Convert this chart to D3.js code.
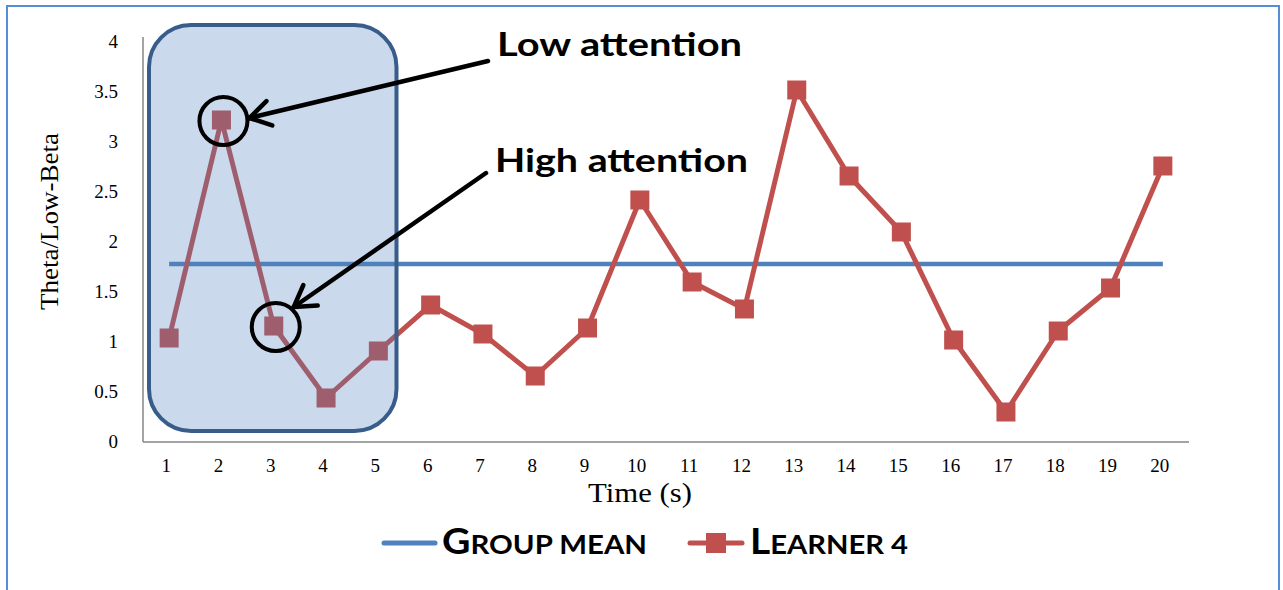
<!DOCTYPE html>
<html><head><meta charset="utf-8">
<script src="https://cdn.jsdelivr.net/npm/d3@7/dist/d3.min.js"></script>
<style>html,body{margin:0;padding:0;background:#fff;}svg{display:block;}</style>
</head><body>
<script>
const categories = [1,2,3,4,5,6,7,8,9,10,11,12,13,14,15,16,17,18,19,20];
const learner4 = [1.04,3.22,1.16,0.44,0.91,1.37,1.08,0.66,1.14,2.42,1.60,1.33,3.52,2.66,2.10,1.02,0.30,1.11,1.54,2.76];
const groupMean = [1.78,1.78,1.78,1.78,1.78,1.78,1.78,1.78,1.78,1.78,1.78,1.78,1.78,1.78,1.78,1.78,1.78,1.78,1.78,1.78];
const yTicks = [0,0.5,1,1.5,2,2.5,3,3.5,4];
const highlightRange = [1,5];   // categories covered by the shaded box
const lowPoint = 2, highPoint = 3;

const W = 1283, H = 590;
const svg = d3.select("body").append("svg").attr("width", W).attr("height", H);

// outer border
svg.append("rect").attr("x",7).attr("y",6).attr("width",1272).attr("height",600)
  .attr("fill","none").attr("stroke","#558ed5").attr("stroke-width",2);

const x = d3.scaleBand().domain(categories).range([143,1189]);
const y = d3.scaleLinear().domain([0,4]).range([442,42]);
const cx = d => x(d) + x.bandwidth()/2;

// y tick labels
svg.append("g").selectAll("text").data(yTicks).join("text")
  .attr("x",118).attr("y",d=>y(d)+6).attr("text-anchor","end")
  .attr("font-family","Liberation Serif").attr("font-size",19).attr("fill","#000")
  .text(d=>d);

// axes lines
svg.append("line").attr("x1",143).attr("x2",143).attr("y1",37).attr("y2",442).attr("stroke","#868686").attr("stroke-width",1.5);
svg.append("line").attr("x1",143).attr("x2",1189).attr("y1",442).attr("y2",442).attr("stroke","#868686").attr("stroke-width",1.5);

// x tick labels
svg.append("g").selectAll("text").data(categories).join("text")
  .attr("x",d=>cx(d)-3).attr("y",472).attr("text-anchor","middle")
  .attr("font-family","Liberation Serif").attr("font-size",19).attr("fill","#000")
  .text(d=>d);

// axis titles
svg.append("text").attr("x",588).attr("y",502)
  .attr("font-family","Liberation Serif").attr("font-size",28)
  .attr("textLength",104).attr("lengthAdjust","spacingAndGlyphs").text("Time (s)");
svg.append("text").attr("transform","translate(58,310) rotate(-90)")
  .attr("font-family","Liberation Serif").attr("font-size",26)
  .attr("textLength",177).attr("lengthAdjust","spacingAndGlyphs").text("Theta/Low-Beta");

// group mean line
const line = d3.line().x((d,i)=>cx(categories[i])).y(d=>y(d));
svg.append("path").datum(groupMean).attr("d",line).attr("fill","none")
  .attr("stroke","#4f81bd").attr("stroke-width",4.5);

// learner line
svg.append("path").datum(learner4).attr("d",line).attr("fill","none")
  .attr("stroke","#c0504d").attr("stroke-width",5).attr("stroke-linejoin","round");
const ms = 19;
svg.append("g").selectAll("rect").data(learner4).join("rect")
  .attr("x",(d,i)=>cx(categories[i])-ms/2).attr("y",d=>y(d)-ms/2)
  .attr("width",ms).attr("height",ms).attr("fill","#c0504d");

// highlight box
const bx0 = x(highlightRange[0]) + 6, bx1 = x(highlightRange[1]) + x.bandwidth() - 8;
svg.append("rect").attr("x",bx0).attr("y",25).attr("width",bx1-bx0).attr("height",406)
  .attr("rx",42).attr("ry",42)
  .attr("fill","#4f81bd").attr("fill-opacity",0.3)
  .attr("stroke","#385d8a").attr("stroke-width",4);

// circles
const c1 = [cx(lowPoint), y(learner4[lowPoint-1])];
const c2 = [cx(highPoint), y(learner4[highPoint-1])];
[c1,c2].forEach(c=>{
  svg.append("circle").attr("cx",c[0]+2).attr("cy",c[1]+1).attr("r",24)
    .attr("fill","none").attr("stroke","#000").attr("stroke-width",4);
});

// arrows
function arrow(x1,y1,x2,y2){
  svg.append("line").attr("x1",x1).attr("y1",y1).attr("x2",x2).attr("y2",y2)
    .attr("stroke","#000").attr("stroke-width",4.5).attr("stroke-linecap","round");
  const ang = Math.atan2(y1-y2,x1-x2), L=24, spread=0.55;
  [ang+spread, ang-spread].forEach(a=>{
    svg.append("line").attr("x1",x2).attr("y1",y2)
      .attr("x2",x2+L*Math.cos(a)).attr("y2",y2+L*Math.sin(a))
      .attr("stroke","#000").attr("stroke-width",4.5).attr("stroke-linecap","round");
  });
}
arrow(488,61,c1[0]+28,c1[1]-2);
arrow(486,173,c2[0]+20,c2[1]-19);

// annotation text
svg.append("text").attr("x",497).attr("y",56).attr("font-family","Lato").attr("font-weight","bold")
  .attr("font-size",33).attr("textLength",245).attr("lengthAdjust","spacingAndGlyphs").text("Low attention");
svg.append("text").attr("x",495).attr("y",172).attr("font-family","Lato").attr("font-weight","bold")
  .attr("font-size",33).attr("textLength",253).attr("lengthAdjust","spacingAndGlyphs").text("High attention");

// legend
const lg = svg.append("g");
lg.append("line").attr("x1",384).attr("x2",435).attr("y1",543).attr("y2",543)
  .attr("stroke","#4f81bd").attr("stroke-width",5).attr("stroke-linecap","round");
function scText(xp, first, rest, len){
  const t = lg.append("text").attr("x",xp).attr("y",554).attr("font-family","Lato").attr("font-weight","bold")
    .attr("textLength",len).attr("lengthAdjust","spacingAndGlyphs");
  t.append("tspan").attr("font-size",36).text(first);
  t.append("tspan").attr("font-size",27).text(rest);
}
scText(442,"G","ROUP MEAN",205);
lg.append("line").attr("x1",690).attr("x2",742).attr("y1",543).attr("y2",543)
  .attr("stroke","#c0504d").attr("stroke-width",5).attr("stroke-linecap","round");
lg.append("rect").attr("x",706).attr("y",533).attr("width",20).attr("height",20).attr("fill","#c0504d");
scText(750,"L","EARNER 4",158);
</script>
</body></html>
